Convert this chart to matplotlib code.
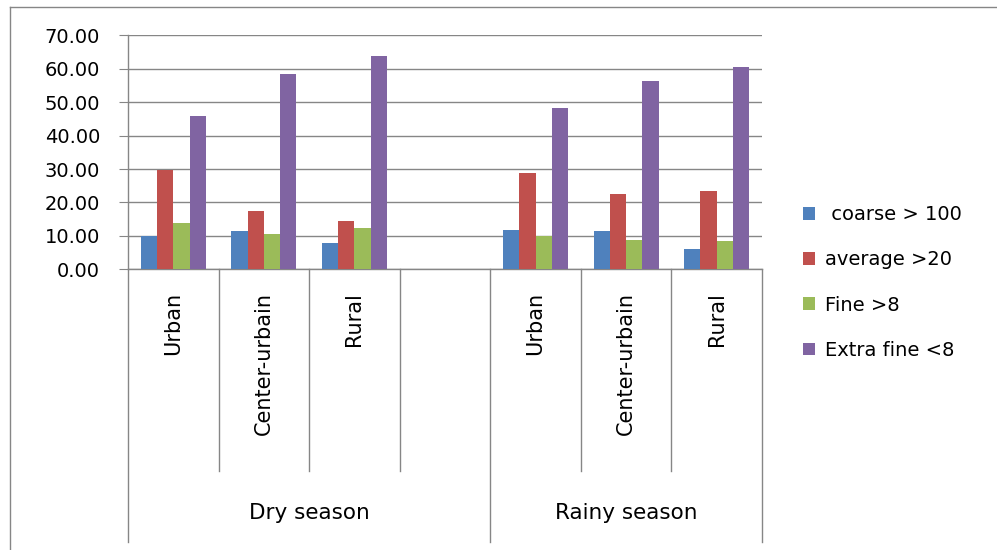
import matplotlib
matplotlib.use("Agg")
import matplotlib.pyplot as plt
from matplotlib.patches import Patch
from matplotlib.lines import Line2D

plt.rcParams['font.family'] = ['DejaVu Sans']

categories = ["Urban", "Center-urbain", "Rural"]
seasons = ["Dry season", "Rainy season"]
series_names = [" coarse > 100", "average >20", "Fine >8", "Extra fine <8"]
colors = ["#4F81BD", "#C0504D", "#9BBB59", "#8064A2"]

coarse_dry = [10.0, 11.5, 8.0]
coarse_rainy = [11.8, 11.5, 6.1]
average_dry = [29.7, 17.4, 14.5]
average_rainy = [28.8, 22.5, 23.4]
fine_dry = [14.0, 10.6, 12.4]
fine_rainy = [9.9, 8.8, 8.5]
extra_dry = [45.9, 58.5, 63.9]
extra_rainy = [48.3, 56.3, 60.5]

series = [(coarse_dry, coarse_rainy), (average_dry, average_rainy),
          (fine_dry, fine_rainy), (extra_dry, extra_rainy)]

GRID = "#868686"
W, H = 997, 550
AX_L, AX_R, AX_T, AX_B = 128, 762, 35.3, 269.3

def frac(py):
    # pixel row -> axes fraction (below the axis gives negatives)
    return (AX_B - py) / (AX_B - AX_T)

fig = plt.figure(figsize=(W / 100, H / 100), dpi=100)
ax = fig.add_axes([AX_L / W, 1 - AX_B / H, (AX_R - AX_L) / W, (AX_B - AX_T) / H])

# dry season on slots 0..2, empty slot 3, rainy on 4..6
dry_pos = [0, 1, 2]
rainy_pos = [4, 5, 6]
bw = 0.18
for i, (dry, rainy) in enumerate(series):
    off = (i - 1.5) * bw
    ax.bar([p + off for p in dry_pos], dry, width=bw, color=colors[i], zorder=3)
    ax.bar([p + off for p in rainy_pos], rainy, width=bw, color=colors[i], zorder=3)

ax.set_xlim(-0.5, 6.5)
ax.set_ylim(0, 70)
ax.set_yticks(range(0, 71, 10))
ax.set_yticklabels(["%.2f" % v for v in range(0, 71, 10)])
ax.yaxis.grid(True, color=GRID, lw=1.0, zorder=0)
ax.set_xticks([])
ax.tick_params(axis='y', direction='out', length=6.5, width=0.8, color=GRID,
               pad=13.5, labelsize=14)
for s in ['top', 'right']:
    ax.spines[s].set_visible(False)
for s in ['left', 'bottom']:
    ax.spines[s].set_color(GRID)
    ax.spines[s].set_linewidth(1.0)

tr = ax.get_xaxis_transform()
# separators between categories
for x in [0.5, 1.5, 2.5, 4.5, 5.5]:
    ax.plot([x, x], [0, frac(471)], transform=tr, clip_on=False, color=GRID, lw=1.0)
# group separators
for x in [-0.5, 3.5, 6.5]:
    ax.plot([x, x], [0, frac(541.7)], transform=tr, clip_on=False, color=GRID, lw=1.0)

for pos_list in (dry_pos, rainy_pos):
    for p, name in zip(pos_list, categories):
        ax.text(p, frac(292), name, rotation=90, ha='center', va='top',
                transform=tr, fontsize=15)

ax.text(1.5, frac(513), seasons[0], ha='center', va='center', transform=tr, fontsize=15.5)
ax.text(5.0, frac(513), seasons[1], ha='center', va='center', transform=tr, fontsize=15.5)

# chart area border (top and left only visible)
fig.add_artist(Line2D([10 / W, 1], [1 - 7 / H, 1 - 7 / H], transform=fig.transFigure,
                      color=GRID, lw=1.0))
fig.add_artist(Line2D([10 / W, 10 / W], [0, 1 - 7 / H], transform=fig.transFigure,
                      color=GRID, lw=1.0))

handles = [Patch(facecolor=c) for c in colors]
fig.legend(handles, series_names, loc='center left',
           bbox_to_anchor=(803 / W, 1 - 282.5 / H), frameon=False, fontsize=14,
           handlelength=0.62, handleheight=0.62, handletextpad=0.5,
           labelspacing=1.35, borderpad=0, borderaxespad=0)

fig.savefig("out.png", dpi=100)
